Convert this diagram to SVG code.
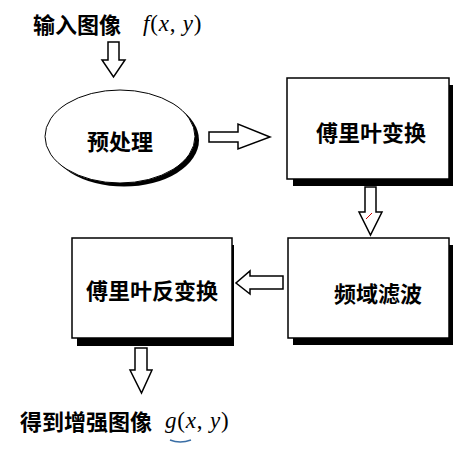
<svg xmlns="http://www.w3.org/2000/svg" width="469" height="449" viewBox="0 0 469 449">
<style>
.t{font-family:"Noto Sans CJK SC","Noto Sans",sans-serif;font-weight:bold;font-size:22px;fill:#000;dominant-baseline:central}
.m{font-family:"Liberation Serif",serif;font-style:italic;font-size:23px;letter-spacing:0.8px;fill:#000;dominant-baseline:central}
.mu{font-family:"Liberation Serif",serif;font-style:normal}
.box{fill:#fff;stroke:#000;stroke-width:1.5}
.sh{fill:#000}
.arr{fill:#fff;stroke:#000;stroke-width:1.5;stroke-linejoin:miter}
</style>
<rect width="469" height="449" fill="#fff"/>
<g id="input">
<text class="t" x="33" y="23">输入图像</text>
<text class="m" x="143" y="23">f<tspan class="mu">(</tspan>x<tspan class="mu">, </tspan>y<tspan class="mu">)</tspan></text>
</g>
<g id="preprocess">
<ellipse class="sh" cx="124" cy="140" rx="75" ry="46.5"/>
<ellipse cx="120" cy="136.5" rx="75" ry="46.5" fill="#fff" stroke="#000" stroke-width="1"/>
<text class="t" x="120" y="140" text-anchor="middle">预处理</text>
</g>
<g id="fft">
<rect class="sh" x="293" y="85" width="160" height="101"/>
<rect class="box" x="287" y="78" width="162" height="101"/>
<text class="t" x="371" y="131" text-anchor="middle">傅里叶变换</text>
</g>
<g id="filter">
<rect class="sh" x="293" y="245" width="160" height="100"/>
<rect class="box" x="288" y="238" width="161" height="100"/>
<text class="t" x="378" y="292" text-anchor="middle">频域滤波</text>
</g>
<g id="ifft">
<rect class="sh" x="77" y="245" width="157" height="101"/>
<rect class="box" x="72" y="238" width="160" height="100"/>
<text class="t" x="152" y="289" text-anchor="middle">傅里叶反变换</text>
</g>
<g id="output">
<text class="t" x="20" y="420">得到增强图像</text>
<text class="m" x="165" y="420">g<tspan class="mu">(</tspan>x<tspan class="mu">, </tspan>y<tspan class="mu">)</tspan></text>
<path d="M170 440 Q180 444 191 440" fill="none" stroke="#3a6ea5" stroke-width="1.5"/>
</g>
<g id="connectors">
<path class="arr" d="M108 42 H119 V60 H125 L113.5 77 L102 60 H108 Z"/>
<path class="arr" d="M209 132 H238 V124 L270 137 L238 149 V142 H209 Z"/>
<path class="arr" d="M365 187 H376 V212 H382 L370.5 235 L359 212 H365 Z"/>
<path d="M368 217 L372 213 M366 219 L370 215" stroke="#c00" stroke-width="1"/>
<path class="arr" d="M283 276 H250 V271 L236 283 L250 294 V289 H283 Z"/>
<path class="arr" d="M135 348 H147 V370 H152 L141.5 393 L130 370 H135 Z"/>
</g>
</svg>
